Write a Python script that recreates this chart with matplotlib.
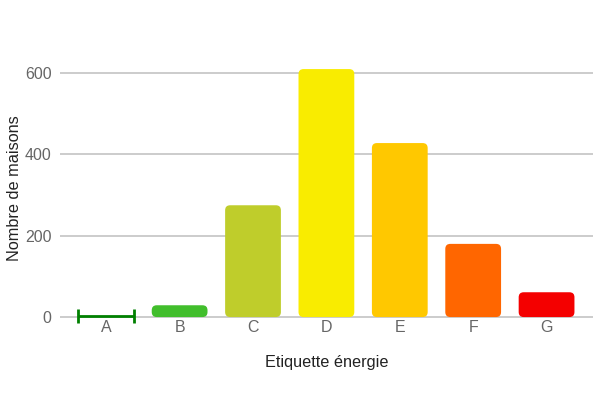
import matplotlib
matplotlib.use("Agg")
import matplotlib.pyplot as plt
from matplotlib.patches import FancyBboxPatch

categories = ["A", "B", "C", "D", "E", "F", "G"]
values = [2, 29, 275, 610, 428, 180, 61]
colors = ["#008000", "#41be2c", "#bfcd2b", "#f9ec00", "#ffc800", "#ff6600", "#f40000"]
yticks = [0, 200, 400, 600]

plt.rcParams['font.family'] = ['Liberation Sans', 'DejaVu Sans']

fig = plt.figure(figsize=(6, 4), dpi=100)
ax = fig.add_axes([0.1, 0.19925, 0.888, 0.7195])
ax.set_xlim(-0.63, 6.63)
ax.set_ylim(-8, 700)

width = 0.76
bars = ax.bar(range(len(categories)), values, width=width, color=colors)

# pixel -> data conversions for rounding
fig.canvas.draw()
bbox = ax.get_window_extent()
px_x = (ax.get_xlim()[1] - ax.get_xlim()[0]) / bbox.width
px_y = (ax.get_ylim()[1] - ax.get_ylim()[0]) / bbox.height
r_px = 5
for i, rect in enumerate(bars.patches):
    rect.set_visible(False)
    if i == 0:
        continue
    x, y, w, h = rect.get_x(), rect.get_y(), rect.get_width(), rect.get_height()
    rr = min(r_px, h / px_y / 2)
    p = FancyBboxPatch((x, y), w, h,
                       boxstyle=f"round,pad=0,rounding_size={rr * px_x}",
                       mutation_aspect=px_y / px_x,
                       facecolor=colors[i], edgecolor="none", zorder=3)
    ax.add_patch(p)

# category A: near-zero value drawn as a capped line
ax.errorbar([0], [values[0]], xerr=[width / 2], color=colors[0], lw=2,
            capsize=5, capthick=2, zorder=4, clip_on=False)

ax.set_yticks(yticks)
ax.set_xticks(range(len(categories)))
ax.set_xticklabels(categories)
ax.grid(axis='y', color='#c8c8c8', lw=1.3, zorder=0)
ax.set_axisbelow(True)
for s in ax.spines.values():
    s.set_visible(False)
ax.tick_params(axis='x', length=0, pad=0, labelsize=11.5, labelcolor='#666666')
ax.tick_params(axis='y', length=0, pad=6, labelsize=11.5, labelcolor='#666666')
ax.set_xlabel("Etiquette énergie", fontsize=11.7, color='#222222', labelpad=14)
ax.set_ylabel("Nombre de maisons", fontsize=11.7, color='#222222')
ax.yaxis.set_label_coords(-0.071, 0.46)

fig.savefig("out.png", dpi=100)
